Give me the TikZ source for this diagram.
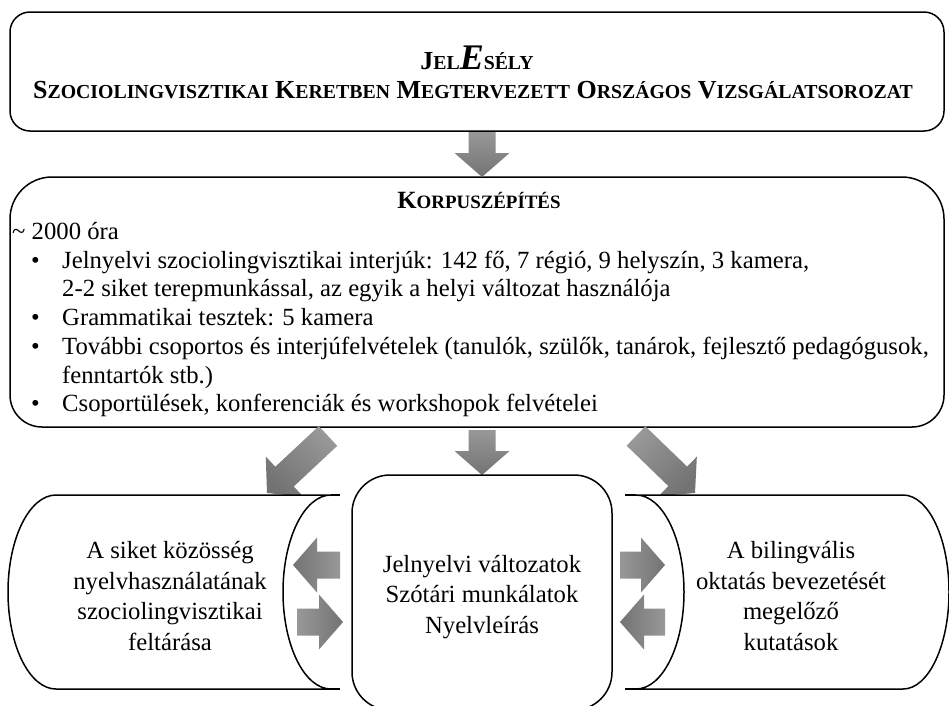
\documentclass[tikz,border=0pt]{standalone}
\usepackage{fontspec}
\setmainfont[Ligatures=TeX]{Liberation Serif}
\usetikzlibrary{calc}
\definecolor{arrlight}{RGB}{152,152,152}
\definecolor{arrdark}{RGB}{115,115,115}
\newcommand{\mysc}[2]{{\fontsize{26}{26}\selectfont #1}{\fontsize{19.8}{19.8}\selectfont #2}}
\newcommand{\myscb}[2]{{\fontsize{24.8}{24.8}\selectfont #1}{\fontsize{18.9}{18.9}\selectfont #2}}
\newcommand{\barrow}[4]{%
  \coordinate (#4h) at ($(#2)!24pt!(#1)$);
  \shade[top color=arrlight, bottom color=arrdark, shading angle=#3]
    ($(#1)!13.5pt!90:(#2)$) -- ($(#4h)!13.5pt!90:(#2)$) -- ($(#4h)!27.5pt!90:(#2)$) -- (#2)
    -- ($(#4h)!27.5pt!-90:(#2)$) -- ($(#4h)!13.5pt!-90:(#2)$) -- ($(#1)!13.5pt!-90:(#2)$) -- cycle;
}
\tikzset{
  boxline/.style={draw=black, line width=1.5pt, fill=white},
  bodytext/.style={anchor=base west, inner sep=0pt, font=\fontsize{24.7}{28.8}\selectfont},
  bul/.style={anchor=base west, inner sep=0pt, font=\fontsize{24.7}{28.8}\selectfont},
  shapetext/.style={align=center, inner sep=0pt, font=\fontsize{24.7}{30.5}\selectfont},
}
\begin{document}
\begin{tikzpicture}[x=1pt, y=-1pt]
\clip (0,0) rectangle (949,705);
\fill[white] (0,0) rectangle (949,705);
% second box
\draw[boxline] (10,300) [rounded corners=42pt] -- (10,177) -- (944,177) -- (944,300)
  [rounded corners=32pt] -- (944,427) -- (10,427) -- (10,300);
\coordinate (box2top) at (482,177);
\coordinate (box2bot) at (482,427);
% top box
\node[boxline, rounded corners=20pt, minimum width=934pt, minimum height=119pt] (topbox) at (477,71.5) {};
\node[anchor=base, inner sep=0pt, font=\bfseries\fontsize{26}{26}\selectfont] (title1) at (477,69)
  {\mysc{J}{EL}{\fontsize{36}{36}\selectfont\itshape E}\mysc{}{SÉLY}};
\node[anchor=base, inner sep=0pt, font=\bfseries\fontsize{26}{26}\selectfont] (title2) at (473,98)
  {\mysc{S}{ZOCIOLINGVISZTIKAI} \mysc{K}{ERETBEN} \mysc{M}{EGTERVEZETT} \mysc{O}{RSZÁGOS} \mysc{V}{IZSGÁLATSOROZAT}};
% top arrow
\coordinate (a0t) at (482,132);
\coordinate (a0p) at (482,177);
\barrow{a0t}{a0p}{0}{a0}
% second box text
\node[anchor=base, inner sep=0pt, font=\bfseries\fontsize{24.8}{24.8}\selectfont] (korp) at (479,208) {\myscb{K}{ORPUSZÉPÍTÉS}};
\node[bodytext] (l1) at (12,239) {\textasciitilde\ 2000 óra};
\node[bul] (b1) at (31,268) {\textbullet};
\node[bodytext] (l2) at (62,268) {Jelnyelvi szociolingvisztikai interjúk: 142 fő, 7 régió, 9 helyszín, 3 kamera,};
\node[bodytext] (l3) at (62,296.6) {2-2 siket terepmunkással, az egyik a helyi változat használója};
\node[bul] (b2) at (31,325.4) {\textbullet};
\node[bodytext] (l4) at (62,325.4) {Grammatikai tesztek: 5 kamera};
\node[bul] (b3) at (31,354.2) {\textbullet};
\node[bodytext] (l5) at (62,354.2) {További csoportos és interjúfelvételek (tanulók, szülők, tanárok, fejlesztő pedagógusok,};
\node[bodytext] (l6) at (62,383) {fenntartók stb.)};
\node[bul] (b4) at (31,411.8) {\textbullet};
\node[bodytext] (l7) at (62,411.8) {Csoportülések, konferenciák és workshopok felvételei};
% three arrows from box 2
\coordinate (a1t) at (328,436);
\coordinate (a1p) at (267,493);
\barrow{a1t}{a1p}{-45}{a1}
\coordinate (a2t) at (482,430);
\coordinate (a2p) at (482,475);
\barrow{a2t}{a2p}{0}{a2}
\coordinate (a3t) at (636,436);
\coordinate (a3p) at (695,493);
\barrow{a3t}{a3p}{45}{a3}
% left shape
\draw[boxline] (56,495) -- (331,495) .. controls (304.5,495) and (283,538.4) .. (283,592)
  .. controls (283,645.6) and (304.5,689) .. (331,689) -- (56,689)
  .. controls (29.5,689) and (8,645.6) .. (8,592) .. controls (8,538.4) and (29.5,495) .. (56,495) -- cycle;
\draw[line width=1.5pt] (331,495) -- (340,495) (331,689) -- (340,689);
\node[shapetext] (lefttext) at (170,596) {A siket közösség\\nyelvhasználatának\\szociolingvisztikai\\feltárása};
% right shape
\draw[boxline] (636,495) -- (903,495) .. controls (928.4,495) and (949,538.4) .. (949,592)
  .. controls (949,645.6) and (928.4,689) .. (903,689) -- (636,689)
  .. controls (662.5,689) and (684,645.6) .. (684,592) .. controls (684,538.4) and (662.5,495) .. (636,495) -- cycle;
\draw[line width=1.5pt] (625,495) -- (636,495) (625,689) -- (636,689);
\node[shapetext] (righttext) at (791,596) {A bilingvális\\oktatás bevezetését\\megelőző\\kutatások};
% middle box
\node[boxline, rounded corners=38pt, minimum width=260pt, minimum height=235pt] (mid) at (482,592.5) {};
\node[shapetext] (midtext) at (482,597) {Jelnyelvi változatok\\Szótári munkálatok\\Nyelvleírás};
% side arrows
\coordinate (a4t) at (340,565);
\coordinate (a4p) at (293,565);
\barrow{a4t}{a4p}{-90}{a4}
\coordinate (a5t) at (297,622);
\coordinate (a5p) at (343,622);
\barrow{a5t}{a5p}{90}{a5}
\coordinate (a6t) at (620,565);
\coordinate (a6p) at (665,565);
\barrow{a6t}{a6p}{90}{a6}
\coordinate (a7t) at (665,622);
\coordinate (a7p) at (620,622);
\barrow{a7t}{a7p}{-90}{a7}
\end{tikzpicture}
\end{document}
